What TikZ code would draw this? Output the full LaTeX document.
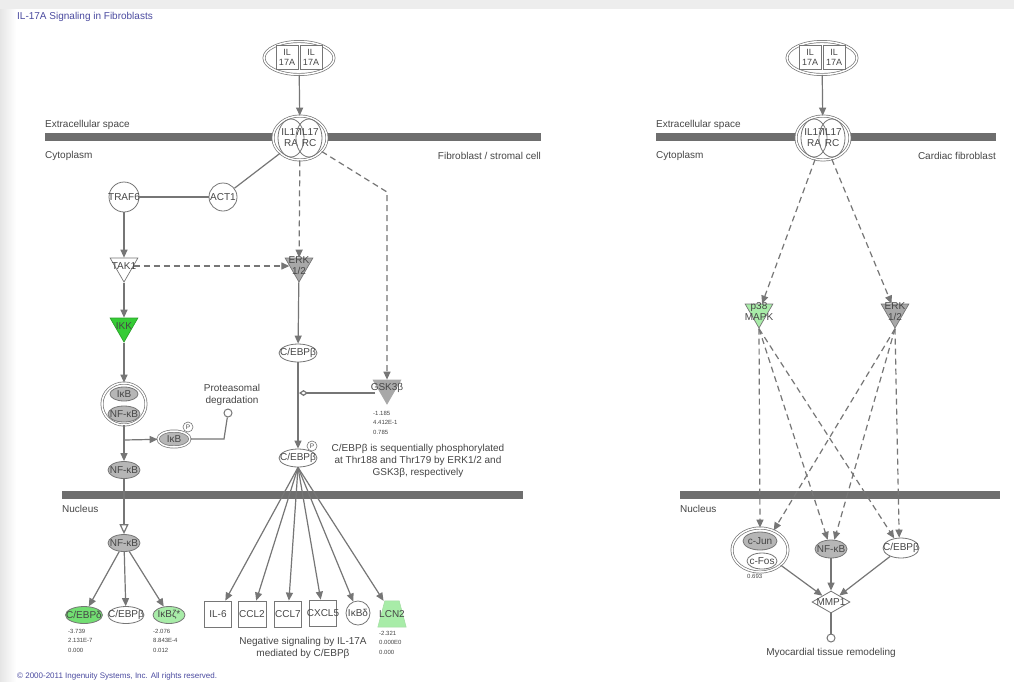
\documentclass[tikz,border=0pt]{standalone}
\usepackage{fontspec}
\setmainfont{Liberation Sans}
\usetikzlibrary{shapes.geometric,arrows.meta}
\definecolor{linec}{HTML}{767676}
\definecolor{txtc}{HTML}{464646}
\definecolor{barc}{HTML}{6E6E6E}
\definecolor{molgray}{HTML}{B6B6B6}
\definecolor{trigray}{HTML}{A8A8A8}
\definecolor{brightgreen}{HTML}{35CC35}
\definecolor{midgreen}{HTML}{72DE72}
\definecolor{palegreen}{HTML}{A8ECA8}
\definecolor{titleblue}{HTML}{4B4BA0}
\tikzset{
  lbl/.style={text=txtc, font=\fontsize{10}{11}\selectfont, align=center, inner sep=0pt},
  note/.style={text=txtc, font=\fontsize{10}{12.3}\selectfont, align=center, inner sep=0pt},
  vals/.style={text=txtc, font=\fontsize{6}{9.5}\selectfont, align=left, anchor=north west, inner sep=0pt},
  mol/.style={ellipse, draw=linec, line width=0.8pt, fill=white, inner sep=0pt},
  circ/.style={circle, draw=linec, line width=0.8pt, fill=white, inner sep=0pt},
  gene/.style={rectangle, draw=linec, line width=0.8pt, fill=white, inner sep=0pt, minimum width=27pt, minimum height=26pt},
  tri/.style={regular polygon, regular polygon sides=3, shape border rotate=180, draw=linec, line width=0.7pt, inner sep=0pt, minimum size=32pt},
  cpx/.style={ellipse, draw=linec, line width=0.7pt, double=white, double distance=1.5pt, fill=white, inner sep=0pt},
  sub/.style={rectangle, draw=linec, line width=0.7pt, fill=white, inner sep=0pt, minimum width=22pt, minimum height=24pt, text=txtc, align=center, font=\fontsize{9}{10}\selectfont},
  pcirc/.style={circle, draw=linec, line width=0.6pt, fill=white, minimum size=10pt, inner sep=0pt, text=txtc, font=\fontsize{6.5}{7}\selectfont},
  endc/.style={circle, draw=linec, line width=1pt, fill=white, minimum size=8pt, inner sep=0pt},
  ln/.style={draw=linec, line width=1.2pt},
  arr/.style={ln, -{Triangle[length=8pt,width=7pt]}},
  dasharr/.style={arr, dash pattern=on 6pt off 4pt},
  openarr/.style={ln, -{Triangle[open,length=10pt,width=9pt]}},
  diamarr/.style={ln, -{Diamond[open,length=9pt,width=6pt]}},
}
\begin{document}
\begin{tikzpicture}[x=1pt,y=-1pt]
\useasboundingbox (0,0) rectangle (1014,681);
% page and its surrounding frame
\fill[white] (0,0) rectangle (1014,681);
\fill[gray!14] (0,0) rectangle (1014,9);
\shade[left color=gray!20, right color=white] (0,9) rectangle (16,681);

\node[lbl, anchor=west, text=titleblue] (title) at (17,17) {IL-17A Signaling in Fibroblasts};

% ================= left panel: fibroblast / stromal cell =================
\fill[barc] (45,133) rectangle (541,141);
\node[lbl, anchor=west] (extL) at (45,125) {Extracellular space};
\node[lbl, anchor=west] (cytL) at (45,156) {Cytoplasm};
\node[lbl, anchor=east] (cellL) at (541,156) {Fibroblast / stromal cell};

\node[cpx, minimum width=70pt, minimum height=33pt] (ilaL) at (299,58) {};
\node[sub] (ilaL1) at (287,57) {IL\\17A};
\node[sub] (ilaL2) at (311,57) {IL\\17A};

\node[cpx, minimum width=54pt, minimum height=44pt] (recL) at (300,138) {};
\node[mol, fill=none, minimum width=26pt, minimum height=38pt, label={[lbl]center:IL17\\RA}] (recLa) at (291,138) {};
\node[mol, fill=none, minimum width=26pt, minimum height=38pt, label={[lbl]center:IL17\\RC}] (recLb) at (309,138) {};

\node[circ, minimum size=30pt, label={[lbl]center:TRAF6}] (traf6) at (124,197) {};
\node[circ, minimum size=28pt, label={[lbl]center:ACT1}] (act1) at (223,197) {};
\node[tri, fill=white, label={[lbl]center:TAK1}] (tak1) at (124,266) {};
\node[tri, fill=trigray, label={[lbl]center:ERK\\1/2}] (erkL) at (299,266) {};
\node[tri, fill=brightgreen, draw=brightgreen!80!black, label={[lbl]center:IKK}] (ikk) at (124,326) {};

\node[cpx, minimum width=44pt, minimum height=42pt] (ikbnf) at (124,404) {};
\node[mol, fill=molgray, minimum width=28pt, minimum height=14pt, label={[lbl]center:IκB}] (ikb1) at (124,394) {};
\node[mol, fill=molgray, minimum width=32pt, minimum height=16pt, label={[lbl]center:NF-κB}] (nfkb1) at (124,414) {};

\node[cpx, fill=molgray, minimum width=32pt, minimum height=16pt, label={[lbl]center:IκB}] (ikbp) at (174,439) {};
\node[pcirc] (p1) at (188,427) {P};
\node[endc] (prot) at (228,413) {};
\node[note] (protlbl) at (232,395) {Proteasomal\\degradation};
\coordinate (br) at (124,440);
\coordinate (pbend) at (224,439);

\node[mol, fill=molgray, minimum width=32pt, minimum height=17pt, label={[lbl]center:NF-κB}] (nfkbC) at (124,470) {};

\fill[barc] (62,491) rectangle (523,499);
\node[lbl, anchor=west] (nucL) at (62,509) {Nucleus};

\node[mol, fill=molgray, minimum width=32pt, minimum height=17pt, label={[lbl]center:NF-κB}] (nfkbN) at (124,543) {};
\node[mol, fill=midgreen, minimum width=37pt, minimum height=17pt, label={[lbl]center:C/EBPδ}] (cebpd) at (84,615) {};
\node[mol, minimum width=36pt, minimum height=17pt, label={[lbl]center:C/EBPβ}] (cebpbN) at (126,615) {};
\node[mol, fill=palegreen, minimum width=32pt, minimum height=17pt, label={[lbl]center:IκBζ*}] (ikbz) at (169,615) {};
\node[vals] (vd) at (68,629) {-3.739\\2.131E-7\\0.000};
\node[vals] (vz) at (153,629) {-2.076\\8.843E-4\\0.012};

\node[mol, minimum width=38pt, minimum height=18pt, label={[lbl]center:C/EBPβ}] (cebpb1) at (298,353) {};
\node[mol, minimum width=38pt, minimum height=18pt, label={[lbl]center:C/EBPβ}] (cebpb2) at (298,458) {};
\node[pcirc] (p2) at (312,446) {P};
\node[tri, fill=trigray, draw=trigray, label={[lbl]center:GSK3β}] (gsk) at (387,388) {};
\node[vals] (vg) at (373,411) {-1.185\\4.412E-1\\0.785};
\coordinate (gbend) at (387,192);
\coordinate (gsx) at (375,393);
\coordinate (gdm) at (299,393);
\node[note] (phos) at (418,461) {C/EBPβ is sequentially phosphorylated\\at Thr188 and Thr179 by ERK1/2 and\\GSK3β, respectively};

\node[gene, label={[lbl]center:IL-6}] (il6) at (218,614) {};
\node[gene, minimum width=28pt, label={[lbl]center:CCL2}] (ccl2) at (252,614) {};
\node[gene, label={[lbl]center:CCL7}] (ccl7) at (288,614) {};
\node[gene, label={[lbl]center:CXCL5}] (cxcl5) at (323,613) {};
\node[circ, minimum size=24pt, label={[lbl]center:IκBδ}] (ikbd) at (358,613) {};
% LCN2: trapezoid drawn around an invisible target node
\node[rectangle, inner sep=0pt, minimum width=28pt, minimum height=26pt] (lcn2) at (392,614) {};
\fill[palegreen, draw=palegreen!85!gray, line width=0.5pt]
  (lcn2.south west) -- (lcn2.south east) -- ([xshift=-7pt]lcn2.north east) -- ([xshift=7pt]lcn2.north west) -- cycle;
\node[lbl] (lcn2t) at (lcn2.center) {LCN2};
\node[vals] (vl) at (379,631) {-2.321\\0.000E0\\0.000};
\node[note] (neg) at (303,648) {Negative signaling by IL-17A\\mediated by C/EBPβ};

% connectors, left panel
\draw[arr] (ilaL) -- (recL);
\draw[ln] (recL) -- (act1);
\draw[ln] (act1) -- (traf6);
\draw[arr] (traf6) -- (tak1);
\draw[dasharr] (recL) -- (erkL);
\draw[dasharr] (tak1) -- (erkL);
\draw[dasharr] (recL) -- (gbend) -- (gsk);
\draw[arr] (tak1) -- (ikk);
\draw[arr] (ikk) -- (ikbnf);
\draw[arr] (ikbnf) -- (nfkbC);
\draw[arr] (br) -- (ikbp);
\draw[ln] (ikbp) -- (pbend) -- (prot);
\draw[openarr] (nfkbC) -- (nfkbN);
\draw[arr] (nfkbN) -- (cebpd);
\draw[arr] (nfkbN) -- (cebpbN);
\draw[arr] (nfkbN) -- (ikbz);
\draw[arr] (erkL) -- (cebpb1);
\draw[arr] (cebpb1) -- (cebpb2);
\draw[diamarr] (gsx) -- (gdm);
\foreach \g in {il6,ccl2,ccl7,cxcl5,ikbd,lcn2}
  \draw[arr] (cebpb2.south) -- (\g);

% ================= right panel: cardiac fibroblast =================
\fill[barc] (656,133) rectangle (996,141);
\node[lbl, anchor=west] (extR) at (656,125) {Extracellular space};
\node[lbl, anchor=west] (cytR) at (656,156) {Cytoplasm};
\node[lbl, anchor=east] (cellR) at (996,156) {Cardiac fibroblast};

\node[cpx, minimum width=70pt, minimum height=33pt] (ilaR) at (822,58) {};
\node[sub] (ilaR1) at (810,57) {IL\\17A};
\node[sub] (ilaR2) at (834,57) {IL\\17A};

\node[cpx, minimum width=54pt, minimum height=44pt] (recR) at (823,138) {};
\node[mol, fill=none, minimum width=26pt, minimum height=38pt, label={[lbl]center:IL17\\RA}] (recRa) at (814,138) {};
\node[mol, fill=none, minimum width=26pt, minimum height=38pt, label={[lbl]center:IL17\\RC}] (recRb) at (832,138) {};

\node[tri, fill=palegreen, label={[lbl]center:p38\\MAPK}] (p38) at (759,312) {};
\node[tri, fill=trigray, label={[lbl]center:ERK\\1/2}] (erkR) at (895,312) {};

\fill[barc] (680,491) rectangle (1000,499);
\node[lbl, anchor=west] (nucR) at (680,509) {Nucleus};

\node[cpx, minimum width=56pt, minimum height=44pt] (cjunc) at (760,550) {};
\node[mol, fill=molgray, minimum width=34pt, minimum height=18pt, label={[lbl]center:c-Jun}] (cjun) at (760,541) {};
\node[mol, minimum width=30pt, minimum height=16pt, label={[lbl]center:c-Fos}] (cfos) at (762,561) {};
\node[vals] (vc) at (747,574) {0.693};
\node[mol, fill=molgray, minimum width=32pt, minimum height=18pt, label={[lbl]center:NF-κB}] (nfkbR) at (831,549) {};
\node[mol, minimum width=36pt, minimum height=20pt, label={[lbl]center:C/EBPβ}] (cebpbR) at (901,548) {};
\node[diamond, draw=linec, line width=0.8pt, fill=white, inner sep=0pt, minimum width=38pt, minimum height=22pt,
      label={[lbl]center:MMP1}] (mmp1) at (831,602) {};
\node[endc] (endR) at (831,638) {};
\node[note] (myo) at (831,653) {Myocardial tissue remodeling};

% connectors, right panel
\draw[arr] (ilaR) -- (recR);
\draw[dasharr] (recR) -- (p38);
\draw[dasharr] (recR) -- (erkR);
\draw[dasharr] (p38.south) -- (cjunc.north);
\draw[dasharr] (erkR.south) -- (cjunc.55);
\draw[dasharr] (p38.south) -- (nfkbR.110);
\draw[dasharr] (erkR.south) -- (nfkbR.70);
\draw[dasharr] (p38.south) -- (cebpbR.125);
\draw[dasharr] (erkR.south) -- (cebpbR.100);
\draw[arr] (cjunc) -- (mmp1);
\draw[arr] (nfkbR) -- (mmp1);
\draw[arr] (cebpbR) -- (mmp1);
\draw[ln] (mmp1) -- (endR);

\node[anchor=base west, inner sep=0pt, text=titleblue, font=\fontsize{8}{9}\selectfont] (copy) at (17,678)
  {© 2000-2011 Ingenuity Systems, Inc. All rights reserved.};
\end{tikzpicture}
\end{document}
